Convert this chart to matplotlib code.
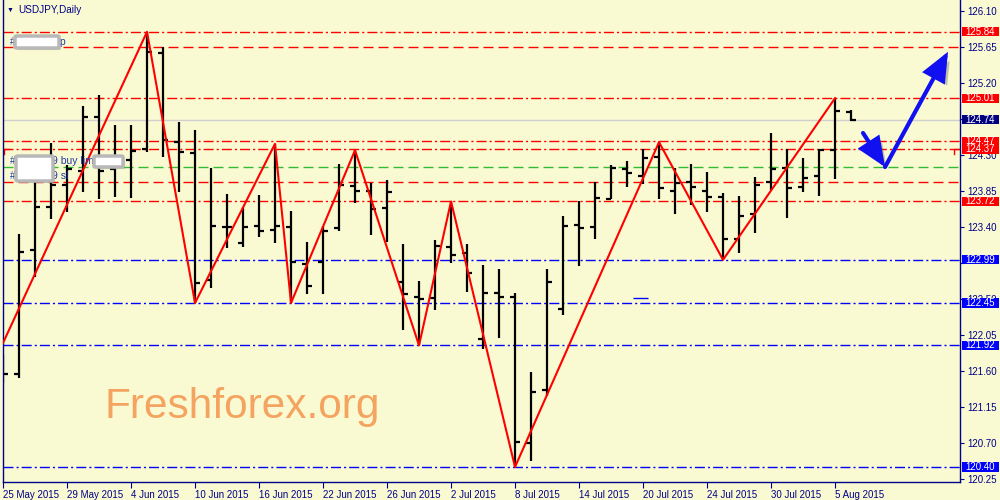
import matplotlib
matplotlib.use("Agg")
import matplotlib.pyplot as plt
from matplotlib.patches import Rectangle, FancyBboxPatch, FancyArrowPatch
from matplotlib import patheffects as pe
from matplotlib.transforms import blended_transform_factory

plt.rcParams['font.family'] = ['Liberation Sans', 'DejaVu Sans']

# USDJPY daily bars, 25 May 2015 .. 6 Aug 2015
opens = [121.61, 121.56, 123.11, 123.65, 123.93, 124.10, 124.78, 124.13, 124.24, 124.38,
         125.58, 124.46, 124.33, 122.74, 123.40, 123.20, 123.41, 123.36, 123.40, 122.94,
         122.96, 123.39, 123.91, 123.85, 123.64, 122.71, 122.53, 122.51, 123.15, 123.08,
         122.00, 122.58, 122.53, 120.70, 121.36, 122.38, 123.43, 123.40, 123.75, 124.13,
         124.04, 124.28, 123.85, 123.96, 123.85, 123.78, 123.25, 123.56, 123.96, 124.14,
         123.90, 124.04, 124.36, 124.84]
highs = [121.80, 123.31, 124.05, 124.45, 124.18, 124.91, 125.05, 124.68, 124.68, 125.84,
         125.65, 124.71, 124.61, 124.14, 123.81, 123.65, 123.80, 124.44, 123.60, 123.21,
         123.41, 124.19, 124.36, 123.95, 123.99, 123.19, 122.73, 123.24, 123.72, 123.19,
         122.93, 122.88, 122.58, 121.59, 122.88, 123.54, 123.73, 123.96, 124.18, 124.23,
         124.38, 124.46, 124.14, 124.19, 124.09, 123.83, 123.79, 124.03, 124.58, 124.38,
         124.26, 124.38, 125.01, 124.86]
lows = [121.45, 121.51, 122.78, 123.50, 123.59, 123.84, 123.75, 123.78, 123.76, 124.34,
        124.28, 123.84, 122.45, 122.64, 123.14, 123.15, 123.28, 123.20, 122.45, 122.56,
        122.56, 123.35, 123.70, 123.30, 123.21, 122.11, 121.92, 122.36, 122.95, 122.59,
        121.88, 122.01, 120.40, 120.48, 121.29, 122.30, 122.91, 123.25, 123.75, 123.90,
        123.94, 123.75, 123.56, 123.68, 123.59, 122.99, 123.08, 123.33, 123.86, 123.51,
        123.84, 123.79, 124.00, 124.73]
closes = [121.56, 123.09, 123.65, 123.93, 124.13, 124.78, 124.10, 124.16, 124.35, 125.59,
          124.49, 124.34, 122.70, 123.41, 123.40, 123.40, 123.35, 123.41, 122.96, 122.66,
          123.35, 123.93, 123.85, 123.63, 123.84, 122.56, 122.50, 123.16, 123.05, 122.83,
          122.58, 122.53, 120.71, 121.34, 122.71, 123.41, 123.39, 123.76, 124.14, 124.08,
          124.26, 123.89, 123.95, 123.90, 123.78, 123.25, 123.54, 123.93, 124.13, 123.89,
          124.01, 124.36, 124.85, 124.74]

# zigzag turning points (bar index, price)
zz_idx = [0, 9, 12, 17, 18, 22, 26, 28, 32, 41, 45, 52]
zz_price = [121.95, 125.84, 122.45, 124.44, 122.45, 124.36, 121.92, 123.72, 120.40, 124.46, 122.99, 125.01]

date_labels = ["25 May 2015", "29 May 2015", "4 Jun 2015", "10 Jun 2015", "16 Jun 2015",
               "22 Jun 2015", "26 Jun 2015", "2 Jul 2015", "8 Jul 2015", "14 Jul 2015",
               "20 Jul 2015", "24 Jul 2015", "30 Jul 2015", "5 Aug 2015"]
price_ticks = [126.10, 125.65, 125.20, 124.75, 124.30, 123.85, 123.40, 122.95,
               122.50, 122.05, 121.60, 121.15, 120.70, 120.25]
# ticks whose labels sit fully under a price tag in the terminal
hidden_ticks = [124.75, 122.95]

red_levels = [125.84, 125.01, 124.47, 124.37, 123.72]
blue_levels = [122.99, 122.45, 121.92, 120.40]
bid = 124.74
tp_level = 125.65
buy_limit = 124.15
sl_level = 123.96

BG = '#FAFAD2'
NAVY = '#000088'

fig = plt.figure(figsize=(10, 5), dpi=100, facecolor=BG)
ax = fig.add_axes([0.003, 0.036, 0.957, 0.964], facecolor=BG)
ax.set_xlim(0, 59.81)
ax.set_ylim(120.2125, 126.2375)

dashdot = (0, (7.2, 2.2, 1.5, 2.2))
dashed = (0, (7.2, 3.6))

# horizontal levels
for lv in red_levels:
    ax.axhline(lv, color='#FF0000', lw=1, ls=dashdot, zorder=1)
for lv in blue_levels:
    ax.axhline(lv, color='#0000FF', lw=1, ls=dashdot, zorder=1)
ax.axhline(bid, color='#D0D0D0', lw=1, zorder=1)
ax.axhline(tp_level, color='#FF0000', lw=1, ls=dashed, zorder=1)
ax.axhline(sl_level, color='#FF0000', lw=1, ls=dashed, zorder=1)
ax.axhline(buy_limit, color='#33BB33', lw=1, ls=dashed, zorder=1)
ax.hlines(122.51, 39.4, 40.3, color='#0000FF', lw=1, zorder=1)
# small order brackets
ax.plot([0.05, 0.05, 0.35], [124.31, 124.37, 124.37], color='#FF0000', lw=1, zorder=1)
ax.plot([59.45, 59.45, 59.75], [124.31, 124.37, 124.37], color='#FF0000', lw=1, zorder=1)

# OHLC bars
idx = list(range(len(opens)))
ax.vlines(idx, lows, highs, color='black', lw=1.6, zorder=2)
ax.hlines(opens, [i - 0.32 for i in idx], idx, color='black', lw=1.6, zorder=2)
ax.hlines(closes, idx, [i + 0.32 for i in idx], color='black', lw=1.6, zorder=2)

# zigzag
ax.plot(zz_idx, zz_price, color='#FF0000', lw=1.5, zorder=3)

# forecast arrows
shadow = [pe.SimplePatchShadow(offset=(3, -3), shadow_rgbFace='#555555', alpha=0.35), pe.Normal()]
for a, b in [((53.75, 124.575), (55.125, 124.15)), ((55.125, 124.15), (59.06, 125.59))]:
    arr = FancyArrowPatch(a, b, arrowstyle='-|>,head_length=0.75,head_width=0.32',
                          mutation_scale=22, lw=3, color='#1010F0',
                          shrinkA=0, shrinkB=0, zorder=4, joinstyle='miter')
    arr.set_path_effects(shadow)
    ax.add_patch(arr)

# axes styling
for s in ['left', 'right', 'bottom']:
    ax.spines[s].set_color(NAVY)
    ax.spines[s].set_linewidth(1)
ax.spines['top'].set_visible(False)

ax.set_xticks(range(0, 53, 4))
ax.set_xticklabels(date_labels, fontsize=7, color=NAVY, ha='left')
ax.yaxis.tick_right()
ax.set_yticks(price_ticks)
ax.set_yticklabels(['' if p in hidden_ticks else f'{p:.2f}' for p in price_ticks],
                   fontsize=7, color=NAVY)
ax.tick_params(axis='x', length=4, color=NAVY, pad=2)
ax.tick_params(axis='y', length=3, color=NAVY, pad=2)

# price labels on the right axis
tr = blended_transform_factory(ax.transAxes, ax.transData)
tags = [(lv, '#FF0000') for lv in red_levels] + [(lv, '#0000FF') for lv in blue_levels] + [(bid, '#000080')]
for lv, col in tags:
    ax.add_patch(Rectangle((1.002, lv - 0.058), 0.0385, 0.116, transform=tr,
                           facecolor=col, edgecolor='none', clip_on=False, zorder=5))
    ax.text(1.0055, lv, f'{lv:.2f}', transform=tr, ha='left', va='center',
            fontsize=7, color='white', clip_on=False, zorder=6)

# header and order labels
fig.text(0.007, 1 - 10 / 500, '\u25bc', fontsize=5, color=NAVY, va='center')
fig.text(0.018, 1 - 10 / 500, 'USDJPY,Daily', fontsize=7.2, color=NAVY, va='center')

lab_col = '#2238A8'
fig.text(0.010, 1 - 42 / 500, '#', fontsize=7, color=lab_col, va='center')
fig.text(0.058, 1 - 42 / 500, 'tp', fontsize=7.5, color=lab_col, va='center')
fig.text(0.010, 1 - 161 / 500, '#', fontsize=7, color=lab_col, va='center')
fig.text(0.052, 1 - 161 / 500, '9 buy limit', fontsize=7.5, color=lab_col, va='center')
fig.text(0.010, 1 - 176 / 500, '#', fontsize=7, color=lab_col, va='center')
fig.text(0.052, 1 - 176 / 500, '9 sl', fontsize=7.5, color=lab_col, va='center')

for x0, y0, x1, y1 in [(17, 37, 57, 47), (18, 157, 51, 180), (96, 157, 121, 166)]:
    box = FancyBboxPatch((x0 / 1000, 1 - y1 / 500), (x1 - x0) / 1000, (y1 - y0) / 500,
                         boxstyle='round,pad=0.002', transform=fig.transFigure,
                         facecolor='white', edgecolor='#B8B8B8', lw=2.5, zorder=10)
    box.set_path_effects([pe.SimplePatchShadow(offset=(1.5, -1.5), shadow_rgbFace='#888888', alpha=0.4), pe.Normal()])
    fig.patches.append(box)

# watermark
fig.text(0.105, 1 - 418 / 500, 'Freshforex.org', fontsize=30.5, color='#F4A460', va='baseline')

fig.savefig('out.png', dpi=100, facecolor=BG)
